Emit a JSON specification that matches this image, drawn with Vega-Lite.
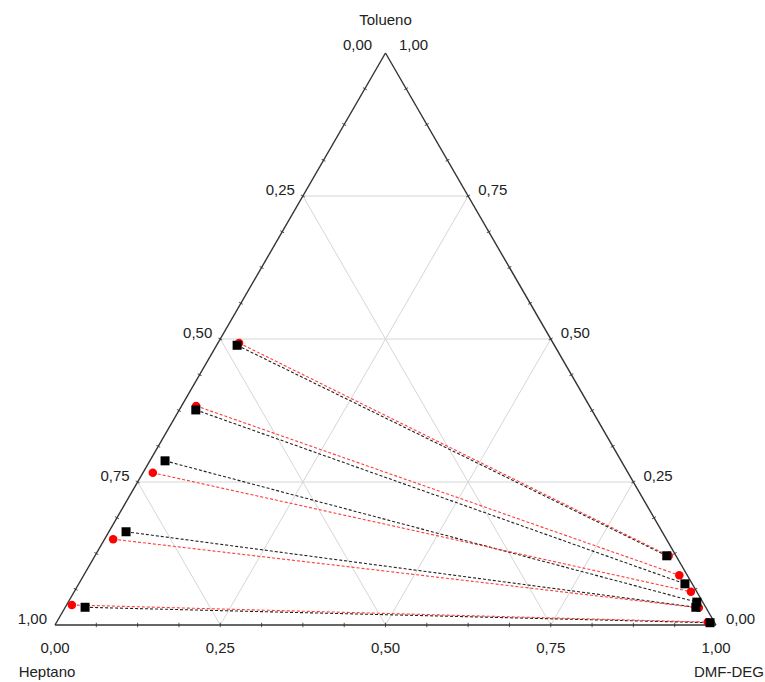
{
  "$schema": "https://vega.github.io/schema/vega-lite/v6.json",
  "width": 661,
  "height": 572,
  "autosize": {"type": "none"},
  "padding": {"left": 55, "top": 53, "right": 49, "bottom": 57},
  "background": "white",
  "config": {
    "view": {"stroke": null},
    "font": "Liberation Sans",
    "text": {"font": "Liberation Sans", "fontSize": 15, "color": "#222222", "baseline": "middle"}
  },
  "datasets": {
    "grade": [
      {"dmf": 0, "tol": 0.25, "dmf2": 0.75, "tol2": 0.25},
      {"dmf": 0, "tol": 0.5, "dmf2": 0.5, "tol2": 0.5},
      {"dmf": 0, "tol": 0.75, "dmf2": 0.25, "tol2": 0.75},
      {"dmf": 0.25, "tol": 0, "dmf2": 0.25, "tol2": 0.75},
      {"dmf": 0.5, "tol": 0, "dmf2": 0.5, "tol2": 0.5},
      {"dmf": 0.75, "tol": 0, "dmf2": 0.75, "tol2": 0.25},
      {"dmf": 0.75, "tol": 0, "dmf2": 0, "tol2": 0.75},
      {"dmf": 0.5, "tol": 0, "dmf2": 0, "tol2": 0.5},
      {"dmf": 0.25, "tol": 0, "dmf2": 0, "tol2": 0.25}
    ],
    "borda": [
      {"dmf": 0, "tol": 0, "dmf2": 1, "tol2": 0},
      {"dmf": 1, "tol": 0, "dmf2": 0, "tol2": 1},
      {"dmf": 0, "tol": 1, "dmf2": 0, "tol2": 0}
    ],
    "marcas": [
      {"lado": "b", "dmf": 0.0625, "tol": 0}, {"lado": "b", "dmf": 0.125, "tol": 0}, {"lado": "b", "dmf": 0.1875, "tol": 0},
      {"lado": "b", "dmf": 0.25, "tol": 0}, {"lado": "b", "dmf": 0.3125, "tol": 0}, {"lado": "b", "dmf": 0.375, "tol": 0},
      {"lado": "b", "dmf": 0.4375, "tol": 0}, {"lado": "b", "dmf": 0.5, "tol": 0}, {"lado": "b", "dmf": 0.5625, "tol": 0},
      {"lado": "b", "dmf": 0.625, "tol": 0}, {"lado": "b", "dmf": 0.6875, "tol": 0}, {"lado": "b", "dmf": 0.75, "tol": 0},
      {"lado": "b", "dmf": 0.8125, "tol": 0}, {"lado": "b", "dmf": 0.875, "tol": 0}, {"lado": "b", "dmf": 0.9375, "tol": 0},
      {"lado": "l", "dmf": 0, "tol": 0.0625}, {"lado": "l", "dmf": 0, "tol": 0.125}, {"lado": "l", "dmf": 0, "tol": 0.1875},
      {"lado": "l", "dmf": 0, "tol": 0.25}, {"lado": "l", "dmf": 0, "tol": 0.3125}, {"lado": "l", "dmf": 0, "tol": 0.375},
      {"lado": "l", "dmf": 0, "tol": 0.4375}, {"lado": "l", "dmf": 0, "tol": 0.5}, {"lado": "l", "dmf": 0, "tol": 0.5625},
      {"lado": "l", "dmf": 0, "tol": 0.625}, {"lado": "l", "dmf": 0, "tol": 0.6875}, {"lado": "l", "dmf": 0, "tol": 0.75},
      {"lado": "l", "dmf": 0, "tol": 0.8125}, {"lado": "l", "dmf": 0, "tol": 0.875}, {"lado": "l", "dmf": 0, "tol": 0.9375},
      {"lado": "r", "dmf": 0.9375, "tol": 0.0625}, {"lado": "r", "dmf": 0.875, "tol": 0.125}, {"lado": "r", "dmf": 0.8125, "tol": 0.1875},
      {"lado": "r", "dmf": 0.75, "tol": 0.25}, {"lado": "r", "dmf": 0.6875, "tol": 0.3125}, {"lado": "r", "dmf": 0.625, "tol": 0.375},
      {"lado": "r", "dmf": 0.5625, "tol": 0.4375}, {"lado": "r", "dmf": 0.5, "tol": 0.5}, {"lado": "r", "dmf": 0.4375, "tol": 0.5625},
      {"lado": "r", "dmf": 0.375, "tol": 0.625}, {"lado": "r", "dmf": 0.3125, "tol": 0.6875}, {"lado": "r", "dmf": 0.25, "tol": 0.75},
      {"lado": "r", "dmf": 0.1875, "tol": 0.8125}, {"lado": "r", "dmf": 0.125, "tol": 0.875}, {"lado": "r", "dmf": 0.0625, "tol": 0.9375}
    ],
    "amarras": [
      {"serie": "exp", "linha": 1, "heptano": 0.480, "tol": 0.489, "dmf": 0.031},
      {"serie": "exp", "linha": 1, "heptano": 0.014, "tol": 0.121, "dmf": 0.865},
      {"serie": "exp", "linha": 2, "heptano": 0.599, "tol": 0.376, "dmf": 0.025},
      {"serie": "exp", "linha": 2, "heptano": 0.011, "tol": 0.072, "dmf": 0.917},
      {"serie": "exp", "linha": 3, "heptano": 0.690, "tol": 0.287, "dmf": 0.023},
      {"serie": "exp", "linha": 3, "heptano": 0.009, "tol": 0.040, "dmf": 0.951},
      {"serie": "exp", "linha": 4, "heptano": 0.811, "tol": 0.163, "dmf": 0.026},
      {"serie": "exp", "linha": 4, "heptano": 0.015, "tol": 0.031, "dmf": 0.954},
      {"serie": "exp", "linha": 5, "heptano": 0.939, "tol": 0.031, "dmf": 0.030},
      {"serie": "exp", "linha": 5, "heptano": 0.007, "tol": 0.004, "dmf": 0.989},
      {"serie": "calc", "linha": 1, "heptano": 0.475, "tol": 0.493, "dmf": 0.032},
      {"serie": "calc", "linha": 1, "heptano": 0.011, "tol": 0.121, "dmf": 0.868},
      {"serie": "calc", "linha": 2, "heptano": 0.595, "tol": 0.383, "dmf": 0.022},
      {"serie": "calc", "linha": 2, "heptano": 0.012, "tol": 0.087, "dmf": 0.901},
      {"serie": "calc", "linha": 3, "heptano": 0.719, "tol": 0.266, "dmf": 0.015},
      {"serie": "calc", "linha": 3, "heptano": 0.009, "tol": 0.058, "dmf": 0.933},
      {"serie": "calc", "linha": 4, "heptano": 0.837, "tol": 0.150, "dmf": 0.013},
      {"serie": "calc", "linha": 4, "heptano": 0.011, "tol": 0.030, "dmf": 0.959},
      {"serie": "calc", "linha": 5, "heptano": 0.957, "tol": 0.035, "dmf": 0.008},
      {"serie": "calc", "linha": 5, "heptano": 0.010, "tol": 0.005, "dmf": 0.985}
    ]
  },
  "encoding": {
    "x": {"field": "px", "type": "quantitative", "scale": {"domain": [0, 1], "nice": false, "zero": false}, "axis": null},
    "y": {"field": "py", "type": "quantitative", "scale": {"domain": [0, 1], "nice": false, "zero": false}, "axis": null}
  },
  "layer": [
    {
      "data": {"name": "grade"},
      "transform": [
        {"calculate": "datum.dmf + datum.tol / 2", "as": "px"},
        {"calculate": "datum.tol", "as": "py"},
        {"calculate": "datum.dmf2 + datum.tol2 / 2", "as": "px2"},
        {"calculate": "datum.tol2", "as": "py2"}
      ],
      "mark": {"type": "rule", "color": "#d6d6d6", "strokeWidth": 1},
      "encoding": {"x2": {"field": "px2"}, "y2": {"field": "py2"}}
    },
    {
      "data": {"name": "marcas"},
      "transform": [
        {"filter": "datum.lado == 'b'"},
        {"calculate": "datum.dmf + datum.tol / 2", "as": "px"},
        {"calculate": "datum.tol", "as": "py"}
      ],
      "mark": {"type": "point", "shape": "stroke", "angle": 90, "size": 20, "color": "#555555", "strokeWidth": 1, "opacity": 1}
    },
    {
      "data": {"name": "marcas"},
      "transform": [
        {"filter": "datum.lado == 'l'"},
        {"calculate": "datum.dmf + datum.tol / 2", "as": "px"},
        {"calculate": "datum.tol", "as": "py"}
      ],
      "mark": {"type": "point", "shape": "stroke", "angle": 30, "size": 20, "color": "#555555", "strokeWidth": 1, "opacity": 1}
    },
    {
      "data": {"name": "marcas"},
      "transform": [
        {"filter": "datum.lado == 'r'"},
        {"calculate": "datum.dmf + datum.tol / 2", "as": "px"},
        {"calculate": "datum.tol", "as": "py"}
      ],
      "mark": {"type": "point", "shape": "stroke", "angle": -30, "size": 20, "color": "#555555", "strokeWidth": 1, "opacity": 1}
    },
    {
      "data": {"name": "borda"},
      "transform": [
        {"calculate": "datum.dmf + datum.tol / 2", "as": "px"},
        {"calculate": "datum.tol", "as": "py"},
        {"calculate": "datum.dmf2 + datum.tol2 / 2", "as": "px2"},
        {"calculate": "datum.tol2", "as": "py2"}
      ],
      "mark": {"type": "rule", "color": "#333333", "strokeWidth": 1.4},
      "encoding": {"x2": {"field": "px2"}, "y2": {"field": "py2"}}
    },
    {
      "data": {"name": "amarras"},
      "transform": [
        {"filter": "datum.serie == 'exp'"},
        {"calculate": "datum.dmf + datum.tol / 2", "as": "px"},
        {"calculate": "datum.tol", "as": "py"}
      ],
      "mark": {"type": "line", "color": "#222222", "strokeWidth": 1.1, "strokeDash": [3, 2]},
      "encoding": {"detail": {"field": "linha", "type": "nominal"}}
    },
    {
      "data": {"name": "amarras"},
      "transform": [
        {"filter": "datum.serie == 'calc'"},
        {"calculate": "datum.dmf + datum.tol / 2", "as": "px"},
        {"calculate": "datum.tol", "as": "py"}
      ],
      "mark": {"type": "line", "color": "#ff3b3b", "strokeWidth": 1.1, "strokeDash": [3, 2]},
      "encoding": {"detail": {"field": "linha", "type": "nominal"}}
    },
    {
      "data": {"name": "amarras"},
      "transform": [
        {"filter": "datum.serie == 'calc'"},
        {"calculate": "datum.dmf + datum.tol / 2", "as": "px"},
        {"calculate": "datum.tol", "as": "py"}
      ],
      "mark": {"type": "point", "shape": "circle", "filled": true, "size": 72, "color": "#ff0000", "opacity": 1}
    },
    {
      "data": {"name": "amarras"},
      "transform": [
        {"filter": "datum.serie == 'exp'"},
        {"calculate": "datum.dmf + datum.tol / 2", "as": "px"},
        {"calculate": "datum.tol", "as": "py"}
      ],
      "mark": {"type": "point", "shape": "square", "filled": true, "size": 81, "color": "#000000", "opacity": 1}
    },
    {
      "data": {"values": [
        {"dmf": 0, "tol": 0.75, "rotulo": "0,25"},
        {"dmf": 0, "tol": 0.5, "rotulo": "0,50"},
        {"dmf": 0, "tol": 0.25, "rotulo": "0,75"},
        {"dmf": 0, "tol": 0, "rotulo": "1,00"}
      ]},
      "transform": [
        {"calculate": "datum.dmf + datum.tol / 2", "as": "px"},
        {"calculate": "datum.tol", "as": "py"}
      ],
      "mark": {"type": "text", "align": "right", "dx": -8, "dy": -6},
      "encoding": {"text": {"field": "rotulo"}}
    },
    {
      "data": {"values": [
        {"dmf": 0.25, "tol": 0.75, "rotulo": "0,75"},
        {"dmf": 0.5, "tol": 0.5, "rotulo": "0,50"},
        {"dmf": 0.75, "tol": 0.25, "rotulo": "0,25"},
        {"dmf": 1, "tol": 0, "rotulo": "0,00"}
      ]},
      "transform": [
        {"calculate": "datum.dmf + datum.tol / 2", "as": "px"},
        {"calculate": "datum.tol", "as": "py"}
      ],
      "mark": {"type": "text", "align": "left", "dx": 10, "dy": -6},
      "encoding": {"text": {"field": "rotulo"}}
    },
    {
      "data": {"values": [
        {"dmf": 0, "tol": 0, "rotulo": "0,00"},
        {"dmf": 0.25, "tol": 0, "rotulo": "0,25"},
        {"dmf": 0.5, "tol": 0, "rotulo": "0,50"},
        {"dmf": 0.75, "tol": 0, "rotulo": "0,75"},
        {"dmf": 1, "tol": 0, "rotulo": "1,00"}
      ]},
      "transform": [
        {"calculate": "datum.dmf + datum.tol / 2", "as": "px"},
        {"calculate": "datum.tol", "as": "py"}
      ],
      "mark": {"type": "text", "align": "center", "dy": 23},
      "encoding": {"text": {"field": "rotulo"}}
    },
    {
      "data": {"values": [{"dmf": 0, "tol": 1, "rotulo": "0,00"}]},
      "transform": [
        {"calculate": "datum.dmf + datum.tol / 2", "as": "px"},
        {"calculate": "datum.tol", "as": "py"}
      ],
      "mark": {"type": "text", "align": "center", "dx": -28, "dy": -8},
      "encoding": {"text": {"field": "rotulo"}}
    },
    {
      "data": {"values": [{"dmf": 0, "tol": 1, "rotulo": "1,00"}]},
      "transform": [
        {"calculate": "datum.dmf + datum.tol / 2", "as": "px"},
        {"calculate": "datum.tol", "as": "py"}
      ],
      "mark": {"type": "text", "align": "center", "dx": 28, "dy": -8},
      "encoding": {"text": {"field": "rotulo"}}
    },
    {
      "data": {"values": [{"dmf": 0, "tol": 1, "rotulo": "Tolueno"}]},
      "transform": [
        {"calculate": "datum.dmf + datum.tol / 2", "as": "px"},
        {"calculate": "datum.tol", "as": "py"}
      ],
      "mark": {"type": "text", "align": "center", "dy": -33},
      "encoding": {"text": {"field": "rotulo"}}
    },
    {
      "data": {"values": [{"dmf": 0, "tol": 0, "rotulo": "Heptano"}]},
      "transform": [
        {"calculate": "datum.dmf + datum.tol / 2", "as": "px"},
        {"calculate": "datum.tol", "as": "py"}
      ],
      "mark": {"type": "text", "align": "center", "dx": -8, "dy": 47},
      "encoding": {"text": {"field": "rotulo"}}
    },
    {
      "data": {"values": [{"dmf": 1, "tol": 0, "rotulo": "DMF-DEG"}]},
      "transform": [
        {"calculate": "datum.dmf + datum.tol / 2", "as": "px"},
        {"calculate": "datum.tol", "as": "py"}
      ],
      "mark": {"type": "text", "align": "center", "dx": 13, "dy": 47},
      "encoding": {"text": {"field": "rotulo"}}
    }
  ]
}
